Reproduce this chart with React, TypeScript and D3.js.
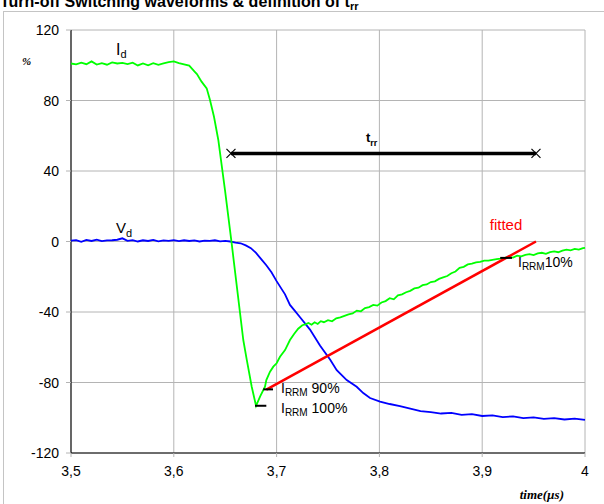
import React from "react";
import * as d3 from "d3";

// ---- data ----
const xTicks = [3.5, 3.6, 3.7, 3.8, 3.9, 4.0];
const xTickLabels = ["3,5", "3,6", "3,7", "3,8", "3,9", "4"];
const yTicks = [-120, -80, -40, 0, 40, 80, 120];

const idTime = [
  3.5, 3.505, 3.51, 3.515, 3.52, 3.525, 3.53, 3.535, 3.54, 3.545, 3.55, 3.555, 3.56, 3.565, 3.57, 3.575, 3.58, 3.585,
  3.59, 3.595, 3.6, 3.605, 3.61, 3.615, 3.62, 3.6225, 3.627, 3.632, 3.6352, 3.6391, 3.6433, 3.6498, 3.6563, 3.658,
  3.6676, 3.671, 3.6758, 3.68, 3.6839, 3.6887, 3.69, 3.6936, 3.6968, 3.7, 3.7033, 3.7082, 3.713, 3.717, 3.721, 3.725,
  3.728, 3.731, 3.734, 3.737, 3.74, 3.743, 3.746, 3.75, 3.754, 3.758, 3.762, 3.766, 3.77, 3.774, 3.778, 3.782, 3.786,
  3.79, 3.794, 3.798, 3.802, 3.806, 3.81, 3.814, 3.818, 3.822, 3.826, 3.83, 3.834, 3.838, 3.842, 3.846, 3.85, 3.854,
  3.858, 3.862, 3.866, 3.87, 3.874, 3.878, 3.882, 3.886, 3.89, 3.894, 3.898, 3.902, 3.906, 3.91, 3.914, 3.918, 3.922,
  3.926, 3.93, 3.934, 3.938, 3.942, 3.946, 3.95, 3.954, 3.958, 3.962, 3.966, 3.97, 3.974, 3.978, 3.982, 3.986, 3.99,
  3.994, 3.998, 4.0,
];
const idValue = [
  101, 100.5, 101.5, 100.6, 102.2, 100.4, 101.2, 100.3, 101.6, 101.0, 101.3, 100.6, 101.5, 99.9, 101.0, 100.0, 101.2,
  100.2, 101.0, 101.8, 102.2, 101.2, 100.5, 99.8, 96.5, 95, 90.7, 86.9, 80.3, 70.8, 57.6, 29.2, -1, -9.4, -55.9, -67.2,
  -82.4, -93.2, -88, -82.4, -78.6, -73.9, -71, -69.1, -65.4, -61.6, -55.9, -52.5, -49.5, -47.5, -47.0, -46.2, -47.2,
  -45.8, -46.8, -45.2, -45.8, -44.6, -45.3, -43.6, -43.0, -42.2, -41.4, -40.8, -39.2, -39.6, -37.8, -37.2, -36.0,
  -36.4, -34.6, -33.8, -32.2, -32.8, -30.6, -30.0, -28.8, -28.0, -26.6, -26.2, -24.8, -24.4, -23.0, -22.6, -21.2,
  -20.4, -19.6, -18.0, -17.0, -15.0, -14.4, -13.0, -12.6, -11.8, -11.6, -10.8, -10.9, -10.4, -10.0, -9.7, -9.3, -8.8,
  -9.1, -8.0, -8.4, -7.6, -7.2, -7.7, -6.8, -6.4, -7.0, -6.0, -5.6, -6.1, -5.2, -4.6, -5.0, -4.2, -4.6, -3.8, -3.6,
];

const vdTime = [
  3.5, 3.505, 3.51, 3.515, 3.52, 3.525, 3.53, 3.535, 3.54, 3.545, 3.55, 3.555, 3.56, 3.565, 3.57, 3.575, 3.58, 3.585,
  3.59, 3.595, 3.6, 3.605, 3.61, 3.615, 3.62, 3.625, 3.63, 3.635, 3.64, 3.645, 3.65, 3.655, 3.66, 3.665, 3.67, 3.675,
  3.68, 3.685, 3.69, 3.695, 3.7, 3.7082, 3.713, 3.718, 3.7228, 3.7325, 3.7422, 3.752, 3.7585, 3.7682, 3.7779, 3.7843,
  3.7909, 3.8006, 3.81, 3.82, 3.83, 3.84, 3.85, 3.86, 3.87, 3.88, 3.89, 3.9, 3.91, 3.92, 3.93, 3.94, 3.95, 3.96, 3.97,
  3.98, 3.99, 4.0,
];
const vdValue = [
  0.5, 0.8, -0.2, 0.9, 0.3, 1.0, 0.2, 0.6, 0.7, 1.0, 1.8, 0.4, 0.8, 0.0, 0.7, 0.3, 0.9, 0.1, 0.6, 0.4, 0.8, 0.2, 0.7,
  0.3, 0.6, 0.0, 0.5, 0.4, 0.7, 0.1, 0.4, 0.0, -0.6, -1.0, -2.2, -3.8, -6.5, -10, -13.5, -17.5, -22.5, -30, -36,
  -39.5, -43, -50, -59, -67, -73, -78.6, -82.4, -86, -88.8, -90.9, -92.2, -93.4, -94.8, -96.2, -96.8, -97.6, -97.2,
  -98.4, -98.0, -99.0, -98.6, -99.6, -99.2, -100.2, -99.8, -100.6, -100.2, -101.0, -100.5, -101.2,
];

// fitted line and markers
const fittedStart = [3.69, -84];
const fittedEnd = [3.9523, 0];
const trrStart = 3.6556;
const trrEnd = 3.9523;
const trrLevel = 50;
const irrm100 = { t0: 3.679, t1: 3.69, v: -93.2 };
const irrm90 = { t0: 3.687, t1: 3.6965, v: -83.9 };
const irrm10 = { t0: 3.9175, t1: 3.929, v: -9.3 };

const W = 604;
const H = 504;

export default function App() {
  const x = d3.scaleLinear().domain([3.5, 4.0]).range([71, 585]);
  const y = d3.scaleLinear().domain([-120, 120]).range([453, 30]);

  const idLine = d3
    .line<number>()
    .x((_, i) => x(idTime[i]))
    .y((v) => y(v))(idValue) as string;
  const vdLine = d3
    .line<number>()
    .x((_, i) => x(vdTime[i]))
    .y((v) => y(v))(vdValue) as string;

  const sans = "'Liberation Sans', Arial, sans-serif";
  const serif = "'Liberation Serif', 'Times New Roman', serif";
  const grid = "#b4b4b4";

  const xMark = (cx: number, cy: number, key: string) => (
    <g key={key} stroke="#000" strokeWidth={1.2}>
      <line x1={cx - 4.5} y1={cy - 4.5} x2={cx + 4.5} y2={cy + 4.5} />
      <line x1={cx - 4.5} y1={cy + 4.5} x2={cx + 4.5} y2={cy - 4.5} />
    </g>
  );

  return (
    <svg
      width={W}
      height={H}
      style={{ position: "absolute", left: 0, top: 0, background: "#fff" }}
      fontFamily={sans}
    >
      <rect x={0} y={0} width={W} height={H} fill="#fff" />
      {/* outer chart border */}
      <rect x={3.5} y={11.5} width={W + 20} height={H + 20} fill="none" stroke="#c4c4c4" />
      {/* title */}
      <text x={0} y={7} fontSize={16} fontWeight="bold" fill="#000">
        Turn-off  Switching waveforms &amp; definition of t
        <tspan fontSize={11} dy={3}>rr</tspan>
      </text>

      {/* gridlines */}
      {yTicks.map((v) => (
        <line key={"gy" + v} x1={x(3.5)} x2={x(4.0)} y1={y(v)} y2={y(v)} stroke={grid} strokeWidth={1} />
      ))}
      {xTicks.slice(1).map((t) => (
        <line key={"gx" + t} x1={x(t)} x2={x(t)} y1={y(120)} y2={y(-120)} stroke={grid} strokeWidth={1} />
      ))}

      {/* axes */}
      <line x1={x(3.5)} x2={x(3.5)} y1={y(120)} y2={y(-120)} stroke="#000" strokeWidth={1.2} />
      <line x1={x(3.5)} x2={x(4.0)} y1={y(-120)} y2={y(-120)} stroke="#000" strokeWidth={1.2} />
      {yTicks.map((v) => (
        <g key={"ty" + v}>
          <line x1={x(3.5) - 5} x2={x(3.5)} y1={y(v)} y2={y(v)} stroke={grid} />
          <text x={59} y={y(v) + 5} textAnchor="end" fontSize={14} fill="#000">
            {v}
          </text>
        </g>
      ))}
      {xTicks.map((t, i) => (
        <g key={"tx" + t}>
          <line x1={x(t)} x2={x(t)} y1={y(-120)} y2={y(-120) + 4} stroke={grid} />
          <text x={x(t)} y={476} textAnchor="middle" fontSize={14} fill="#000">
            {xTickLabels[i]}
          </text>
        </g>
      ))}
      <text x={22} y={65} fontSize={11} fontStyle="italic" fontWeight="bold" fontFamily={serif}>
        %
      </text>
      <text x={564} y={499} textAnchor="end" fontSize={13} fontStyle="italic" fontWeight="bold" fontFamily={serif}>
        time(µs)
      </text>

      {/* curves */}
      <path d={vdLine} fill="none" stroke="#0000ff" strokeWidth={1.8} />
      <path d={idLine} fill="none" stroke="#00ff00" strokeWidth={1.8} />

      {/* fitted line */}
      <line
        x1={x(fittedStart[0])}
        y1={y(fittedStart[1])}
        x2={x(fittedEnd[0])}
        y2={y(fittedEnd[1])}
        stroke="#ff0000"
        strokeWidth={2.5}
      />
      <text x={506} y={230} textAnchor="middle" fontSize={15} fill="#ff0000">
        fitted
      </text>

      {/* IRRM markers */}
      {[irrm100, irrm90, irrm10].map((m, i) => (
        <line key={"m" + i} x1={x(m.t0)} x2={x(m.t1)} y1={y(m.v)} y2={y(m.v)} stroke="#000" strokeWidth={2} />
      ))}
      <text x={281} y={393} fontSize={14} fill="#000">
        I<tspan fontSize={10} dy={3}>RRM</tspan>
        <tspan dy={-3}> 90%</tspan>
      </text>
      <text x={281} y={413} fontSize={14} fill="#000">
        I<tspan fontSize={10} dy={3}>RRM</tspan>
        <tspan dy={-3}> 100%</tspan>
      </text>
      <text x={518} y={267} fontSize={14} fill="#000">
        I<tspan fontSize={10} dy={3}>RRM</tspan>
        <tspan dy={-3}>10%</tspan>
      </text>

      {/* trr */}
      <line x1={x(trrStart)} x2={x(trrEnd)} y1={y(trrLevel)} y2={y(trrLevel)} stroke="#000" strokeWidth={3.5} />
      {xMark(x(trrStart), y(trrLevel), "a")}
      {xMark(x(trrEnd), y(trrLevel), "b")}
      <text x={366} y={142} fontSize={13} fontWeight="bold" fill="#000">
        t<tspan fontSize={9} dy={4}>rr</tspan>
      </text>

      {/* curve labels */}
      <text x={116} y={55} fontSize={16} fill="#000">
        I<tspan fontSize={11} dy={3}>d</tspan>
      </text>
      <text x={116} y={233} fontSize={15} fill="#000">
        V<tspan fontSize={11} dy={4}>d</tspan>
      </text>
    </svg>
  );
}
